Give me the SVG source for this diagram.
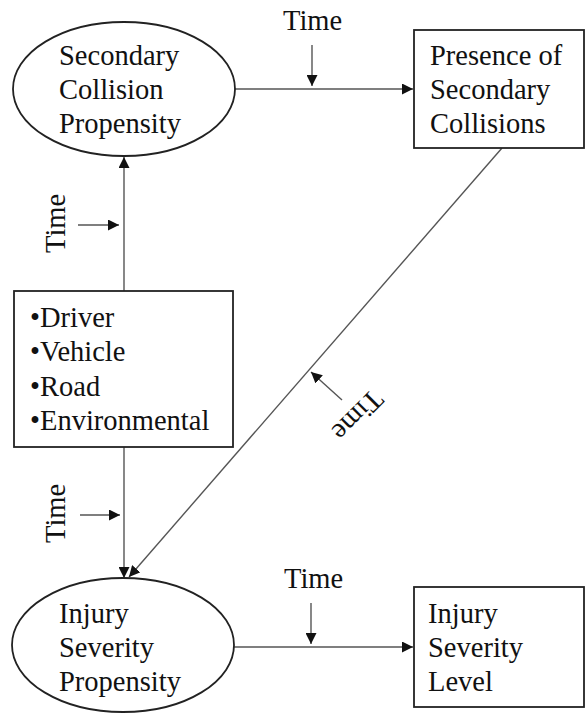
<svg xmlns="http://www.w3.org/2000/svg" width="585" height="715" viewBox="0 0 585 715">
<defs>
<style>
text{font-family:"Liberation Serif","Times New Roman",serif;font-size:28.5px;fill:#111}
.node{fill:#fff;stroke:#222;stroke-width:1.8}
.conn{stroke:#555;stroke-width:1.4;fill:none}
</style>
<marker id="ah" viewBox="0 0 10 10" refX="10" refY="5" markerWidth="11" markerHeight="11" markerUnits="userSpaceOnUse" orient="auto">
<path d="M0,0 L10,5 L0,10 Z" fill="#111"/>
</marker>
</defs>
<rect width="585" height="715" fill="#fff"/>
<g id="connectors">
<line class="conn" x1="235" y1="89" x2="413" y2="89" marker-end="url(#ah)"/>
<line class="conn" x1="124" y1="291" x2="124" y2="157" marker-end="url(#ah)"/>
<line class="conn" x1="124" y1="447" x2="124" y2="578" marker-end="url(#ah)"/>
<line class="conn" x1="502" y1="148" x2="129" y2="577" marker-end="url(#ah)"/>
<line class="conn" x1="234" y1="647" x2="413" y2="647" marker-end="url(#ah)"/>
<line class="conn" x1="312" y1="45" x2="312" y2="86" marker-end="url(#ah)"/>
<line class="conn" x1="78" y1="225" x2="119" y2="225" marker-end="url(#ah)"/>
<line class="conn" x1="80" y1="515" x2="120" y2="515" marker-end="url(#ah)"/>
<line class="conn" x1="342" y1="400" x2="311" y2="372" marker-end="url(#ah)"/>
<line class="conn" x1="311" y1="603" x2="311" y2="644" marker-end="url(#ah)"/>
<text x="283" y="30">Time</text>
<text transform="translate(65,253) rotate(-90)">Time</text>
<text transform="translate(65,543) rotate(-90)">Time</text>
<text transform="translate(351,409) rotate(135)" text-anchor="middle">Time</text>
<text x="284" y="588">Time</text>
</g>
<g id="secondary-collision-propensity">
<ellipse class="node" cx="124" cy="89" rx="111" ry="67"/>
<text x="59" y="65">Secondary</text>
<text x="59" y="99">Collision</text>
<text x="59" y="133">Propensity</text>
</g>
<g id="presence-of-secondary-collisions">
<rect class="node" x="414" y="30" width="170" height="118"/>
<text x="430" y="65">Presence of</text>
<text x="430" y="99">Secondary</text>
<text x="430" y="133">Collisions</text>
</g>
<g id="factors">
<rect class="node" x="14" y="291" width="219" height="156"/>
<text x="30" y="327">•Driver</text>
<text x="30" y="361">•Vehicle</text>
<text x="30" y="396">•Road</text>
<text x="30" y="430">•Environmental</text>
</g>
<g id="injury-severity-propensity">
<ellipse class="node" cx="123" cy="645" rx="111" ry="67"/>
<text x="59" y="623">Injury</text>
<text x="59" y="657">Severity</text>
<text x="59" y="691">Propensity</text>
</g>
<g id="injury-severity-level">
<rect class="node" x="414" y="587" width="170" height="120"/>
<text x="428" y="623">Injury</text>
<text x="428" y="657">Severity</text>
<text x="428" y="691">Level</text>
</g>
</svg>
